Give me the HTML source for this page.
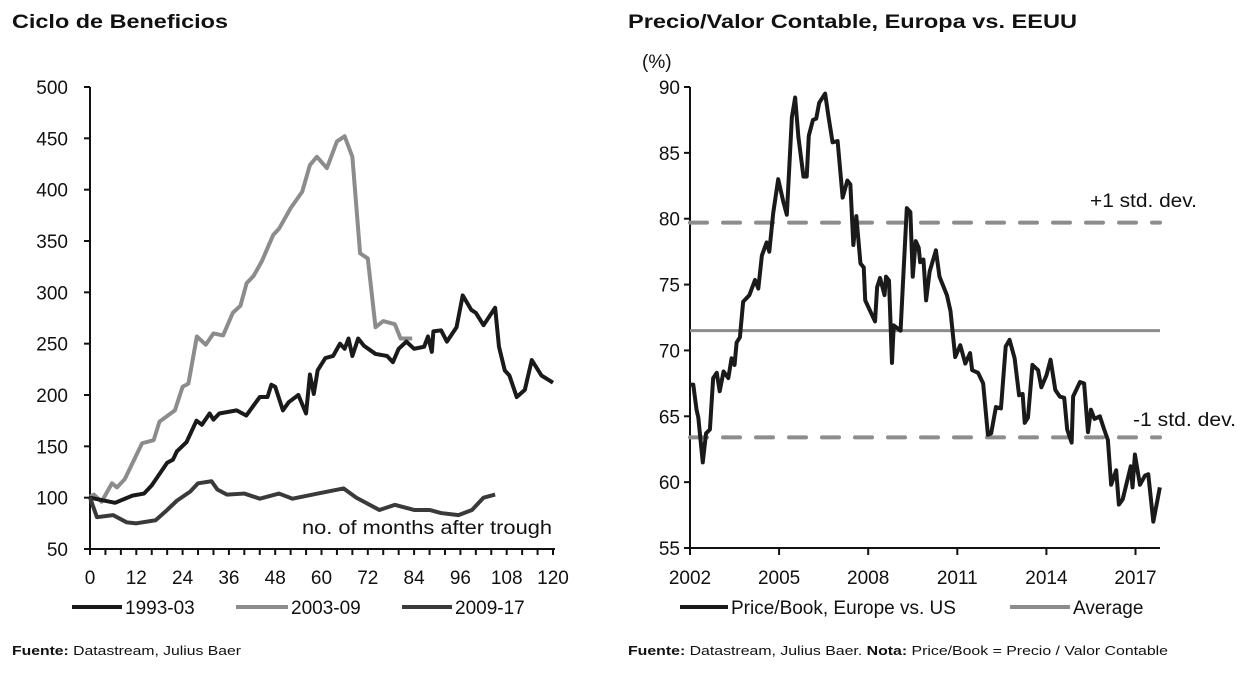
<!DOCTYPE html>
<html><head><meta charset="utf-8"><style>
body{margin:0;background:#fff;}
svg text{font-family:"Liberation Sans",sans-serif;fill:#111;}
</style></head><body>
<svg id="s" width="1250" height="668" viewBox="0 0 1250 668">
<text x="12" y="28" font-size="19" font-weight="bold" textLength="216" lengthAdjust="spacingAndGlyphs">Ciclo de Beneficios</text>
<text x="628" y="28" font-size="19" font-weight="bold" textLength="449" lengthAdjust="spacingAndGlyphs">Precio/Valor Contable, Europa vs. EEUU</text>
<text x="12" y="655" font-size="13" textLength="229" lengthAdjust="spacingAndGlyphs"><tspan font-weight="bold">Fuente:</tspan> Datastream, Julius Baer</text>
<text x="628" y="655" font-size="13" textLength="540" lengthAdjust="spacingAndGlyphs"><tspan font-weight="bold">Fuente:</tspan> Datastream, Julius Baer. <tspan font-weight="bold">Nota:</tspan> Price/Book = Precio / Valor Contable</text>
<text x="642" y="68" font-size="19">(%)</text>
<text x="302" y="534" font-size="19" textLength="250" lengthAdjust="spacingAndGlyphs">no. of months after trough</text>
<text x="1090" y="207" font-size="19" textLength="107" lengthAdjust="spacingAndGlyphs">+1 std. dev.</text>
<text x="1133" y="426" font-size="19" textLength="103" lengthAdjust="spacingAndGlyphs">-1 std. dev.</text>
<g id="L"></g><g id="R"></g>
</svg>
<script>
const lTicks=[50,100,150,200,250,300,350,400,450,500];
const lXTicks=[0,12,24,36,48,60,72,84,96,108,120];
const s1993Months=[0,6.5,11,14,16,20,21.5,22.5,25,27.6,29,31,32,33.5,38,40.5,44,46,47,48,50,51.5,54,56,57,58,59,61,63,64.8,66,67,68,69.5,71,74,77,78.5,80,82,84,86.6,87.6,88.6,89,91,92.5,95,96.6,98.8,100,102,105,106,107.5,108.7,110.6,112.7,114.5,117,120];
const s1993Values=[100,95,102,104,112,134,137,145,154,175,171,182,176,182,185,180,198,198,210,208,185,193,200,182,220,201,224,236,238,250,245,255,238,255,248,240,238,232,245,252,245,247,257,242,262,263,252,266,297,283,280,268,285,247,224,219,198,205,234,219,212];
const s2003Months=[0,1,3,5.7,7,9,13.5,16.5,18,22,24,25.5,27.7,30,32,34.5,37,39,40.6,42.4,44.5,47.5,49,52,55,57,58.8,61.4,64,66,68,70,72,74,76,79,80.5,83.5];
const s2003Values=[101,103,96,114,110,118,153,156,174,185,208,211,257,249,260,258,280,287,309,316,330,356,362,382,398,424,432,421,447,452,432,338,333,266,272,269,255,255];
const s2009Months=[0,1.8,6,9.5,12,17,20,22.5,26,28,31.5,33,35.5,40,44,49,52.5,59,65.7,69,75,79,84,88,91,95.5,99,102,105];
const s2009Values=[100,81,83,76,75,78,88,97,106,114,116,108,103,104,99,104,99,104,109,100,88,93,88,88,85,83,88,100,103];
const rTicks=[55,60,65,70,75,80,85,90];
const rXTicks=[2002,2005,2008,2011,2014,2017];
const pbYears=[2002.0,2002.11,2002.22,2002.28,2002.43,2002.54,2002.67,2002.78,2002.9,2003.0,2003.13,2003.29,2003.4,2003.5,2003.57,2003.68,2003.79,2004.0,2004.19,2004.3,2004.42,2004.58,2004.67,2004.8,2004.97,2005.14,2005.26,2005.43,2005.54,2005.65,2005.82,2005.93,2006.0,2006.14,2006.25,2006.35,2006.55,2006.66,2006.8,2006.97,2007.14,2007.3,2007.4,2007.5,2007.6,2007.74,2007.85,2007.9,2008.23,2008.3,2008.4,2008.55,2008.6,2008.7,2008.8,2008.86,2009.09,2009.17,2009.3,2009.42,2009.5,2009.6,2009.7,2009.75,2009.86,2009.95,2010.07,2010.28,2010.4,2010.65,2010.77,2010.93,2011.1,2011.27,2011.43,2011.5,2011.7,2011.87,2012.03,2012.14,2012.3,2012.47,2012.63,2012.76,2012.93,2013.08,2013.2,2013.27,2013.38,2013.53,2013.72,2013.83,2014.0,2014.14,2014.3,2014.45,2014.6,2014.7,2014.85,2014.9,2015.13,2015.27,2015.4,2015.5,2015.62,2015.8,2015.93,2016.07,2016.18,2016.35,2016.44,2016.57,2016.84,2016.9,2016.98,2017.15,2017.32,2017.43,2017.6,2017.82];
const pbValues=[67.4,67.4,65.5,64.9,61.5,63.7,64,67.9,68.3,66.9,68.4,67.9,69.4,68.9,70.6,71,73.7,74.2,75.35,74.7,77.2,78.2,77.5,80.4,83,81.3,80.3,87.7,89.2,86.2,83.2,83.2,86.3,87.5,87.6,88.8,89.5,87.8,85.8,85.9,81.6,82.9,82.6,78,80.2,76.6,76.3,73.8,72.2,74.8,75.5,74.2,75.6,75.3,69.05,71.9,71.5,75.1,80.8,80.5,75.6,78.3,77.8,76.7,76.9,73.8,76,77.6,75.6,74.2,73,69.5,70.4,69,69.8,68.5,68.3,67.5,63.6,63.7,65.7,65.6,70.3,70.8,69.4,66.6,66.7,64.5,64.9,68.9,68.5,67.2,68.1,69.3,67,66.5,66.4,64,63,66.5,67.6,67.5,63.8,65.5,64.8,65,64.1,63.2,59.8,60.9,58.3,58.7,61.2,59.6,62.1,59.8,60.5,60.6,57,59.6];
const avgValue=71.5, plusStd=79.7, minusStd=63.4;

const NS="http://www.w3.org/2000/svg";
function mk(parent,tag,attrs){const e=document.createElementNS(NS,tag);for(const k in attrs)e.setAttribute(k,attrs[k]);parent.appendChild(e);return e;}
const lx=m=>90+m*463/120, ly=v=>549-(v-50)*462/450;
const rx=y=>690+(y-2002)*29.7, ry=v=>548-(v-55)*461/35;
const L=document.getElementById('L'), R=document.getElementById('R');

let a=mk(L,'line',{x1:90,y1:87,x2:90,y2:549,stroke:'#111','stroke-width':2});


a=mk(L,'line',{x1:89,y1:549,x2:555,y2:549,stroke:'#111','stroke-width':2});


lTicks.forEach(v=>{mk(L,'line',{x1:84,x2:90,y1:ly(v),y2:ly(v),stroke:'#111','stroke-width':2});
 const t=mk(L,'text',{x:68,y:ly(v)+7,'font-size':19,'text-anchor':'end'});t.textContent=v;
 
 });
for(let m=0;m<=120;m+=4)mk(L,'line',{x1:lx(m),x2:lx(m),y1:549,y2:555,stroke:'#111','stroke-width':2});
lXTicks.forEach(m=>{const t=mk(L,'text',{x:lx(m),y:584,'font-size':19,'text-anchor':'middle'});t.textContent=m;
 
 });
function line(g,xs,ys,fx,fy,col,w,name){const p=mk(g,'polyline',{points:xs.map((x,i)=>fx(x)+','+fy(ys[i])).join(' '),fill:'none',stroke:col,'stroke-width':w,'stroke-linejoin':'round'});
 
 }
line(L,s2003Months,s2003Values,lx,ly,'#8c8c8c',4,'series-2003-09');
line(L,s1993Months,s1993Values,lx,ly,'#1a1a1a',4,'series-1993-03');
line(L,s2009Months,s2009Values,lx,ly,'#3a3a3a',4,'series-2009-17');
function leg(g,x1,x2,col,label,y,name,fs){const e=mk(g,'g',{});
 
 
 mk(e,'line',{x1:x1,x2:x2,y1:y,y2:y,stroke:col,'stroke-width':4});
 const t=mk(e,'text',{x:x2+3,y:y+7,'font-size':fs});t.textContent=label;}
leg(L,72,122,'#1a1a1a','1993-03',607,'legend-1993-03',19);
leg(L,236,288,'#8c8c8c','2003-09',607,'legend-2003-09',19);
leg(L,402,452,'#3a3a3a','2009-17',607,'legend-2009-17',19);

a=mk(R,'line',{x1:690,y1:87,x2:690,y2:548,stroke:'#111','stroke-width':2});


a=mk(R,'line',{x1:689,y1:548,x2:1160,y2:548,stroke:'#111','stroke-width':2});


rTicks.forEach(v=>{mk(R,'line',{x1:684,x2:690,y1:ry(v),y2:ry(v),stroke:'#111','stroke-width':2});
 const t=mk(R,'text',{x:680,y:ry(v)+7,'font-size':19,'text-anchor':'end'});t.textContent=v;
 
 });
rXTicks.forEach(y=>{mk(R,'line',{x1:rx(y),x2:rx(y),y1:548,y2:555,stroke:'#111','stroke-width':2});
 const t=mk(R,'text',{x:rx(y),y:584,'font-size':19,'text-anchor':'middle'});t.textContent=y;
 
 });
function hline(v,dash,name){const e=mk(R,'line',{x1:690,x2:1160,y1:ry(v),y2:ry(v),stroke:'#8c8c8c','stroke-width':dash?4:3,'stroke-dasharray':dash?'17,16':'none','stroke-linecap':dash?'round':'butt'});
 
 }
hline(plusStd,true,'plus-one-std-line');
hline(minusStd,true,'minus-one-std-line');
hline(avgValue,false,'average-line');
line(R,pbYears,pbValues,rx,ry,'#1a1a1a',4,'price-book-series');
leg(R,680,728,'#1a1a1a','Price/Book, Europe vs. US',607,'legend-price-book',19);
leg(R,1010,1070,'#8c8c8c','Average',607,'legend-average',19);
</script>
</body></html>
